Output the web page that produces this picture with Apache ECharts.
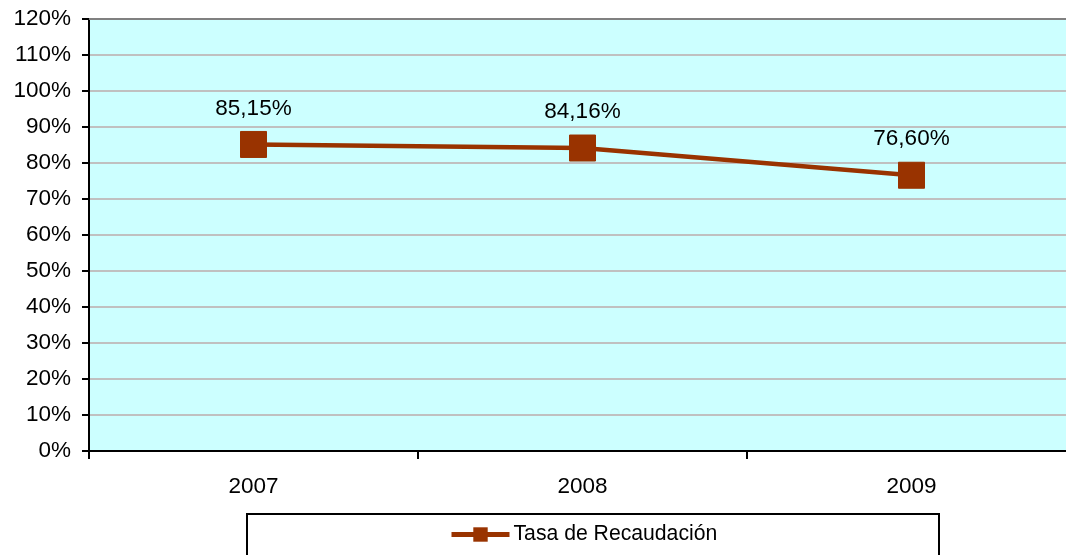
<!DOCTYPE html>
<html>
<head>
<meta charset="utf-8">
<script src="https://cdn.jsdelivr.net/npm/echarts@6/dist/echarts.min.js"></script>
<style>
  html, body { margin: 0; padding: 0; background: #fff; }
  #main { width: 1066px; height: 555px; }
</style>
</head>
<body>
<div id="main"></div>
<script>
var years = ['2007', '2008', '2009'];
var tasa = [85.15, 84.16, 76.60];
var seriesName = 'Tasa de Recaudación';

var myChart = echarts.init(document.getElementById('main'));
var fontFam = '"Liberation Sans", Arial, sans-serif';
var fs = 22.5;

var option = {
  animation: false,
  textStyle: { fontFamily: fontFam },
  grid: {
    left: 89,
    top: 19,
    width: 987,
    height: 432,
    outerBoundsMode: 'none',
    containLabel: false,
    show: true,
    backgroundColor: '#ccffff',
    borderWidth: 0
  },
  xAxis: [{
    type: 'category',
    data: years,
    boundaryGap: true,
    axisLine: { lineStyle: { color: '#000', width: 2 } },
    axisTick: { show: true, alignWithLabel: false, length: 8, lineStyle: { color: '#000', width: 2 } },
    axisLabel: { fontSize: fs, color: '#000', margin: 24, fontFamily: fontFam }
  }, {
    // borde superior del area
    type: 'category',
    data: years,
    position: 'top',
    axisLine: { lineStyle: { color: '#808080', width: 2 } },
    axisTick: { show: false },
    axisLabel: { show: false }
  }],
  yAxis: {
    type: 'value',
    min: 0,
    max: 120,
    interval: 10,
    axisLine: { show: true, lineStyle: { color: '#000', width: 2 } },
    axisTick: { show: true, length: 7, lineStyle: { color: '#000', width: 2 } },
    axisLabel: { fontSize: fs, color: '#000', margin: 18, formatter: '{value}%', fontFamily: fontFam },
    splitLine: { show: true, lineStyle: { color: '#c0c0c0', width: 2 } }
  },
  legend: {
    data: [seriesName],
    left: 449,
    top: 524,
    padding: 0,
    itemWidth: 58,
    itemHeight: 18,
    itemGap: 4,
    lineStyle: { width: 5 },
    textStyle: { fontSize: 21.2, color: '#000', fontFamily: fontFam, padding: [0, 0, 0, -1] }
  },
  graphic: [{
    type: 'rect',
    shape: { x: 247, y: 514, width: 692, height: 50 },
    style: { fill: 'none', stroke: '#000', lineWidth: 2 },
    silent: true
  }],
  series: [{
    name: seriesName,
    type: 'line',
    data: tasa,
    symbol: 'rect',
    symbolSize: 26,
    itemStyle: { color: '#993300', borderColor: '#993300' },
    lineStyle: { color: '#993300', width: 4.5 },
    label: {
      show: true,
      position: 'top',
      distance: 11,
      fontSize: fs,
      color: '#000',
      fontFamily: fontFam,
      formatter: function (p) {
        return p.value.toFixed(2).replace('.', ',') + '%';
      }
    }
  }]
};
myChart.setOption(option);
</script>
</body>
</html>
